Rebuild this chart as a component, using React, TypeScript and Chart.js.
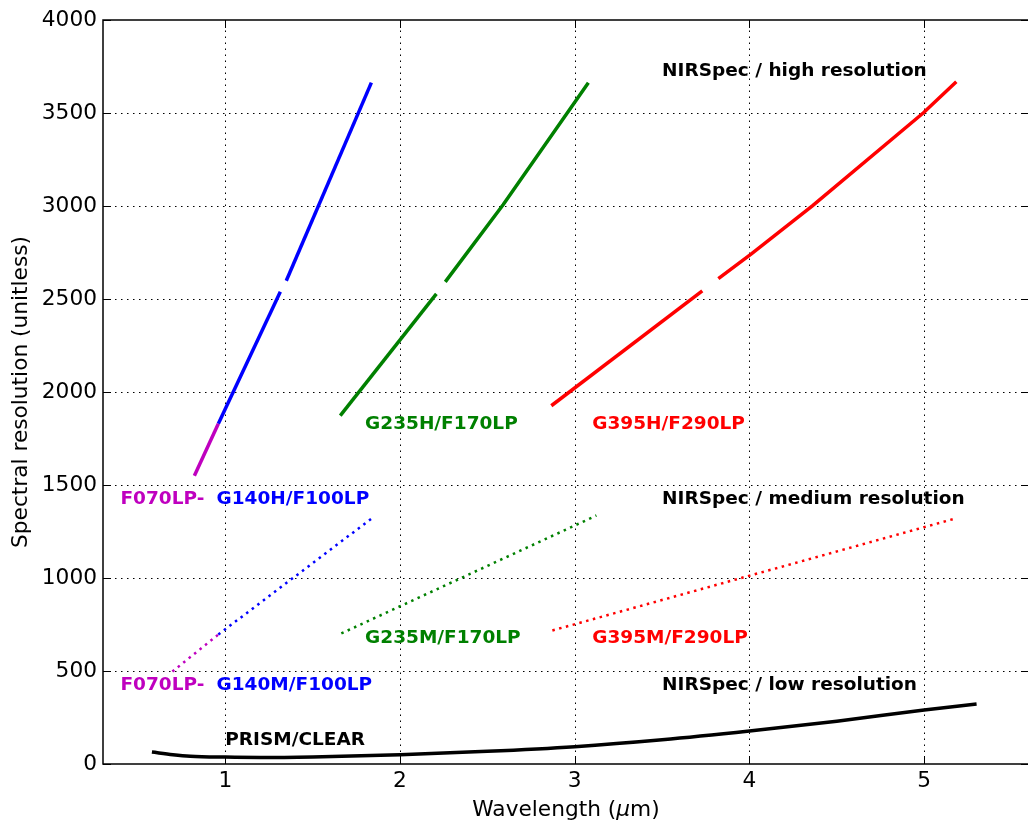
import React, { useEffect, useRef } from 'react';
import { Chart, registerables } from 'chart.js';

Chart.register(...registerables);

// ---- data (wavelength in micron, resolution unitless) ----
const f070lpHighX = [0.823, 0.96];
const f070lpHighY = [1550, 1829];
const g140hLowX = [0.96, 1.315];
const g140hLowY = [1829, 2539];
const g140hUpX = [1.349, 1.836];
const g140hUpY = [2598, 3663];
const g235hLowX = [1.658, 2.208];
const g235hLowY = [1873, 2528];
const g235hUpX = [2.259, 2.59, 3.078];
const g235hUpY = [2592, 3007, 3663];
const g395hLowX = [2.866, 3.73];
const g395hLowY = [1926, 2544];
const g395hUpX = [3.822, 4.011, 4.36, 4.996, 5.184];
const g395hUpY = [2609, 2743, 3001, 3501, 3668];

const f070lpMedX = [0.697, 0.96];
const f070lpMedY = [497, 696];
const g140mX = [0.96, 1.853];
const g140mY = [696, 1331];
const g235mX = [1.664, 3.124];
const g235mY = [702, 1336];
const g395mX = [2.872, 5.179];
const g395mY = [718, 1320];

const prismX = [0.58, 0.7, 0.8, 1.0, 1.2, 1.5, 2.0, 2.5, 3.0, 3.5, 4.0, 4.5, 5.0, 5.3];
const prismY = [64, 50, 42, 37, 35, 38, 50, 68, 93, 130, 177, 230, 290, 322];

const xTicks = [1, 2, 3, 4, 5];
const yTicks = [0, 500, 1000, 1500, 2000, 2500, 3000, 3500, 4000];

const labelTexts = [
  'NIRSpec / high resolution', 'G235H/F170LP', 'G395H/F290LP', 'F070LP-', 'G140H/F100LP',
  'NIRSpec / medium resolution', 'G235M/F170LP', 'G395M/F290LP', 'F070LP-', 'G140M/F100LP',
  'NIRSpec / low resolution', 'PRISM/CLEAR',
];
const labelX = [3.5, 1.8, 3.1, 0.4, 0.95, 3.5, 1.8, 3.1, 0.4, 0.95, 3.5, 1.0];
const labelY = [3700, 1800, 1800, 1400, 1400, 1400, 650, 650, 400, 400, 400, 100];
const labelColors = [
  '#000000', '#008000', '#ff0000', '#bf00bf', '#0000ff',
  '#000000', '#008000', '#ff0000', '#bf00bf', '#0000ff',
  '#000000', '#000000',
];

const FONT = '"DejaVu Sans", sans-serif';

function pts(xs: number[], ys: number[]) {
  return xs.map((v, i) => ({ x: v, y: ys[i] }));
}

function solid(xs: number[], ys: number[], color: string, width = 3.5) {
  return {
    data: pts(xs, ys),
    borderColor: color,
    borderWidth: width,
    showLine: true,
    pointRadius: 0,
    fill: false,
    borderCapStyle: 'butt' as const,
  };
}

function dotted(xs: number[], ys: number[], color: string) {
  return {
    data: pts(xs, ys),
    borderColor: color,
    borderWidth: 2.5,
    borderDash: [2.5, 4.5],
    showLine: true,
    pointRadius: 0,
    fill: false,
    borderCapStyle: 'butt' as const,
  };
}

const overlay = {
  id: 'overlay',
  beforeDatasetsDraw(chart: any) {
    const { ctx, chartArea: a, scales } = chart;
    const x = scales.x;
    const y = scales.y;
    ctx.save();
    ctx.strokeStyle = '#000';
    ctx.lineWidth = 1;
    ctx.setLineDash([1.5, 4.5]);
    xTicks.forEach((v) => {
      const px = Math.round(x.getPixelForValue(v)) + 0.5;
      ctx.beginPath();
      ctx.moveTo(px, a.bottom);
      ctx.lineTo(px, a.top);
      ctx.stroke();
    });
    yTicks.forEach((v) => {
      if (v === 0 || v === 4000) return;
      const py = Math.round(y.getPixelForValue(v)) + 0.5;
      ctx.beginPath();
      ctx.moveTo(a.left, py);
      ctx.lineTo(a.right, py);
      ctx.stroke();
    });
    ctx.restore();
  },
  afterDraw(chart: any) {
    const { ctx, chartArea: a, scales } = chart;
    const x = scales.x;
    const y = scales.y;
    ctx.save();
    ctx.setLineDash([]);
    ctx.strokeStyle = '#000';
    ctx.lineWidth = 1.5;
    ctx.strokeRect(a.left, a.top, a.right - a.left, a.bottom - a.top);
    ctx.lineWidth = 1;
    const tl = 8;
    xTicks.forEach((v) => {
      const px = Math.round(x.getPixelForValue(v)) + 0.5;
      ctx.beginPath();
      ctx.moveTo(px, a.bottom);
      ctx.lineTo(px, a.bottom - tl);
      ctx.moveTo(px, a.top);
      ctx.lineTo(px, a.top + tl);
      ctx.stroke();
    });
    yTicks.forEach((v) => {
      const py = Math.round(y.getPixelForValue(v)) + 0.5;
      ctx.beginPath();
      ctx.moveTo(a.left, py);
      ctx.lineTo(a.left + tl, py);
      ctx.moveTo(a.right, py);
      ctx.lineTo(a.right - tl, py);
      ctx.stroke();
    });

    // annotations
    ctx.font = `bold 18.5px ${FONT}`;
    ctx.textAlign = 'left';
    ctx.textBaseline = 'alphabetic';
    labelTexts.forEach((t, i) => {
      ctx.fillStyle = labelColors[i];
      ctx.fillText(t, x.getPixelForValue(labelX[i]), y.getPixelForValue(labelY[i]));
    });

    // axis titles
    ctx.fillStyle = '#000';
    ctx.textBaseline = 'middle';
    const fs = 21.7;
    const normal = `${fs}px ${FONT}`;
    const ital = `italic ${fs}px ${FONT}`;
    const parts: [string, string][] = [['Wavelength (', normal], ['\u03bc', ital], ['m)', normal]];
    let total = 0;
    parts.forEach(([t, f]) => { ctx.font = f; total += ctx.measureText(t).width; });
    let cx = (a.left + a.right) / 2 - total / 2;
    const ty = 810;
    parts.forEach(([t, f]) => {
      ctx.font = f;
      ctx.fillText(t, cx, ty);
      cx += ctx.measureText(t).width;
    });

    ctx.font = normal;
    ctx.textAlign = 'center';
    ctx.translate(21, (a.top + a.bottom) / 2);
    ctx.rotate(-Math.PI / 2);
    ctx.fillText('Spectral resolution (unitless)', 0, 0);
    ctx.restore();
  },
};

export default function App() {
  const ref = useRef<HTMLCanvasElement | null>(null);
  useEffect(() => {
    if (!ref.current) return;
    const chart = new Chart(ref.current, {
      type: 'scatter',
      data: {
        datasets: [
          solid(prismX, prismY, '#000000', 3.5),
          solid(f070lpHighX, f070lpHighY, '#bf00bf'),
          solid(g140hLowX, g140hLowY, '#0000ff'),
          solid(g140hUpX, g140hUpY, '#0000ff'),
          solid(g235hLowX, g235hLowY, '#008000'),
          solid(g235hUpX, g235hUpY, '#008000'),
          solid(g395hLowX, g395hLowY, '#ff0000'),
          solid(g395hUpX, g395hUpY, '#ff0000'),
          dotted(f070lpMedX, f070lpMedY, '#bf00bf'),
          dotted(g140mX, g140mY, '#0000ff'),
          dotted(g235mX, g235mY, '#008000'),
          dotted(g395mX, g395mY, '#ff0000'),
        ].map((d, i) =>
          i === 0 ? { ...d, cubicInterpolationMode: 'monotone' as const } : d
        ) as any,
      },
      options: {
        animation: false,
        responsive: false,
        devicePixelRatio: 1,
        layout: { padding: { top: 20, right: 11, left: 0, bottom: 0 } },
        plugins: { legend: { display: false }, tooltip: { enabled: false } },
        scales: {
          x: {
            type: 'linear',
            min: 0.3,
            max: 5.6,
            grid: { display: false, drawTicks: false },
            border: { display: false },
            afterBuildTicks: (s: any) => { s.ticks = xTicks.map((v) => ({ value: v })); },
            afterFit: (s: any) => { s.height = 60; },
            ticks: {
              font: { family: FONT, size: 21.7 },
              color: '#000',
              padding: 4,
              maxRotation: 0,
              callback: (v: any) => String(v),
            },
          },
          y: {
            type: 'linear',
            min: 0,
            max: 4000,
            grid: { display: false, drawTicks: false },
            border: { display: false },
            afterBuildTicks: (s: any) => { s.ticks = yTicks.map((v) => ({ value: v })); },
            afterFit: (s: any) => { s.width = 103; },
            ticks: {
              font: { family: FONT, size: 21.7 },
              color: '#000',
              padding: 6,
              callback: (v: any) => String(v),
            },
          },
        },
      },
      plugins: [overlay],
    });
    return () => chart.destroy();
  }, []);

  return (
    <div style={{ position: 'fixed', left: 0, top: 0, width: 1028, height: 824, overflow: 'hidden', background: '#fff' }}>
      <canvas ref={ref} width={1040} height={824} style={{ display: 'block', width: 1040, height: 824 }} />
    </div>
  );
}
